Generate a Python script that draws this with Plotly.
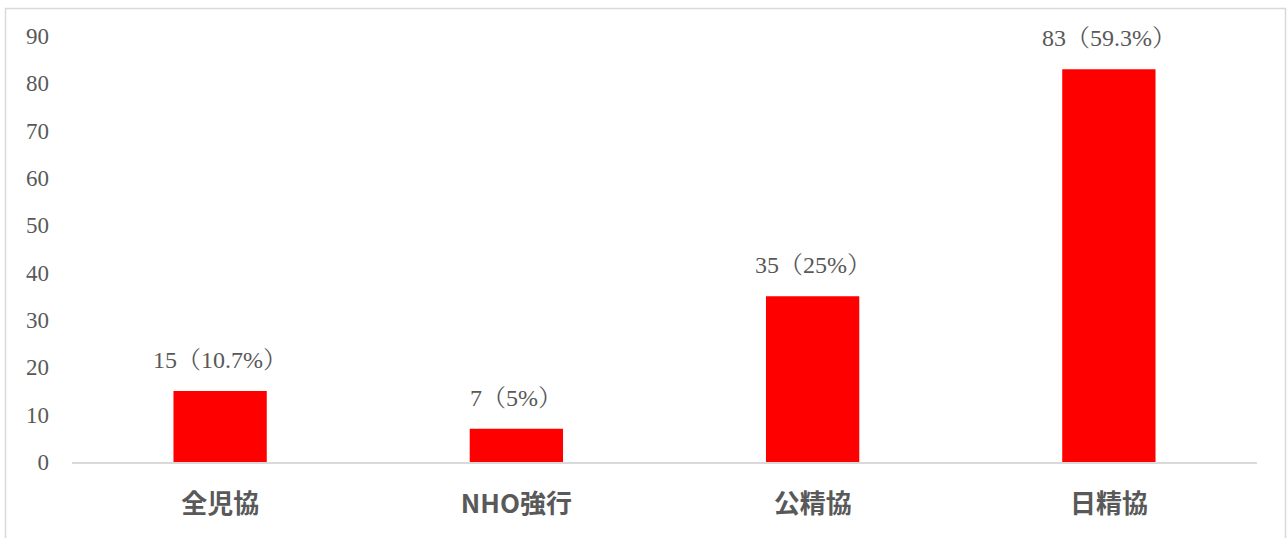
import plotly.graph_objects as go

categories = ["全児協", "NHO強行", "公精協", "日精協"]
values = [15, 7, 35, 83]
labels = ["15（10.7%）", "7（5%）", "35（25%）", "83（59.3%）"]
y_ticks = [0, 10, 20, 30, 40, 50, 60, 70, 80, 90]

SERIF = "Liberation Serif, 'Noto Serif CJK JP', 'Noto Sans CJK JP', serif"
SANS = "'Noto Sans CJK JP', sans-serif"
GRAY = "#595959"

fig = go.Figure(go.Bar(x=categories, y=values, marker=dict(color="#FF0000", line=dict(width=0)),
                       hoverinfo="skip"))

for c, v, t in zip(categories, values, labels):
    fig.add_annotation(x=c, y=v, text=t, showarrow=False, yanchor="middle", yshift=31,
                       font=dict(family=SERIF, size=24, color=GRAY))

L, R, T, B = 72, 30, 36, 76
W, H = 1287, 538
pw, ph = W - L - R, H - T - B
fig.add_shape(type="rect", xref="paper", yref="paper",
              x0=(5.5 - L) / pw, x1=(1285.5 - L) / pw,
              y0=(H - B - 545) / ph, y1=(H - B - 8.5) / ph,
              line=dict(color="#d9d9d9", width=1.5), fillcolor="rgba(0,0,0,0)", layer="below")

fig.update_layout(
    width=W, height=H,
    margin=dict(l=L, r=R, t=T, b=B),
    paper_bgcolor="white", plot_bgcolor="white",
    bargap=0.685,
    showlegend=False,
    xaxis=dict(showline=True, linecolor="#d9d9d9", linewidth=1.5, showgrid=False, zeroline=False,
               ticks="", ticklabelstandoff=18,
               tickfont=dict(family=SANS, size=26, color=GRAY, weight="bold")),
    yaxis=dict(range=[0, 90], tickvals=y_ticks, showgrid=False, zeroline=False, showline=False,
               ticks="", ticklabelstandoff=22,
               tickfont=dict(family=SERIF, size=23, color=GRAY)),
)

fig.write_html("out.html")
